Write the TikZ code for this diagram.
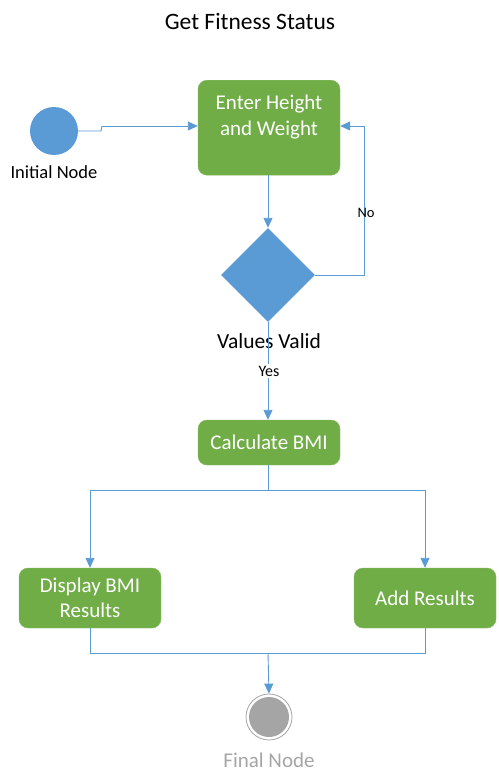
\documentclass[tikz,border=0pt]{standalone}
\usepackage{fontspec}
\setmainfont{Carlito}
\usetikzlibrary{shapes.geometric,arrows.meta}
\definecolor{lblue}{HTML}{5B9BD5}
\definecolor{lgreen}{HTML}{70AD47}
\definecolor{lgray}{HTML}{A5A5A5}
\begin{document}
\begin{tikzpicture}[x=1pt,y=-1pt,
  act/.style={draw=lgreen!85!white,fill=lgreen,rounded corners=9pt,text=white,font=\fontsize{21}{25.5}\selectfont,align=center,minimum width=142pt,inner sep=0pt},
  conn/.style={draw=lblue,line width=0.9pt,-{Triangle[length=10pt,width=9pt]}},
  plain/.style={draw=lblue,line width=0.9pt},
  lbl/.style={font=\fontsize{18.5}{20}\selectfont}]
\useasboundingbox (0,0) rectangle (498,784);
\node[font=\fontsize{23.5}{26}\selectfont] (title) at (250,22) {Get Fitness Status};
% initial node
\node[circle,fill=lblue,minimum size=48pt,inner sep=0pt] (init) at (54,131) {};
\node[lbl] (initl) at (54,172) {Initial Node};
% enter
\node[act,minimum height=95pt,anchor=north] (enter) at (269,80) {};
\node[act,draw=none,fill=none] (entert) at (269,117) {Enter Height\\and Weight};
% diamond
\node[diamond,fill=lblue,minimum width=94pt,minimum height=94pt,inner sep=0pt] (dec) at (268,275) {};
\node[font=\fontsize{21.5}{23}\selectfont] (decl) at (269,341) {Values Valid};
% calc
\node[act,minimum height=45pt] (calc) at (269,442.5) {Calculate BMI};
% display / add
\node[act,minimum height=60pt] (disp) at (90,598) {Display BMI\\Results};
\node[act,minimum height=60pt] (add) at (425,598) {Add Results};
% final
\node[circle,draw=lgray,line width=0.8pt,minimum size=46pt,inner sep=0pt] (fin) at (269,717) {};
\node[circle,fill=lgray,minimum size=40pt,inner sep=0pt] (finin) at (269,717) {};
\node[text=lgray,font=\fontsize{21}{22}\selectfont] (finl) at (269,760) {Final Node};
% coordinates
\coordinate (a1) at (101,131);
\coordinate (a2) at (102,126);
\coordinate (no1) at (364,275);
\coordinate (no2) at (364,126);
\coordinate (s) at (268,490);
\coordinate (sl) at (90,490);
\coordinate (sr) at (425,490);
\coordinate (j) at (268,653);
\coordinate (jl) at (90,653);
\coordinate (jr) at (425,653);
% connectors
\draw[plain] (init.east) -- (a1) -- (a2);
\draw[conn] (a2) -- (enter.west |- a2);
\draw[conn] (enter.south -| dec.north) -- (dec.north);
\draw[plain] (dec.east) -- (no1) -- (no2);
\draw[conn] (no2) -- (enter.east |- no2);
\node[font=\fontsize{14.5}{16}\selectfont] (nol) at (366,213) {No};
\draw[conn] (dec.south) -- (calc.north -| dec.south);
\node[fill=white,inner sep=1.5pt,font=\fontsize{16}{18}\selectfont] (yesl) at (269,371) {Yes};
\draw[plain] (calc.south -| s) -- (s);
\draw[plain] (sl) -- (sr);
\draw[conn] (sl) -- (disp.north);
\draw[conn] (sr) -- (add.north);
\draw[plain] (disp.south) -- (jl) -- (jr) -- (add.south);
\draw[conn] (j) -- (fin.north);
\end{tikzpicture}
\end{document}
